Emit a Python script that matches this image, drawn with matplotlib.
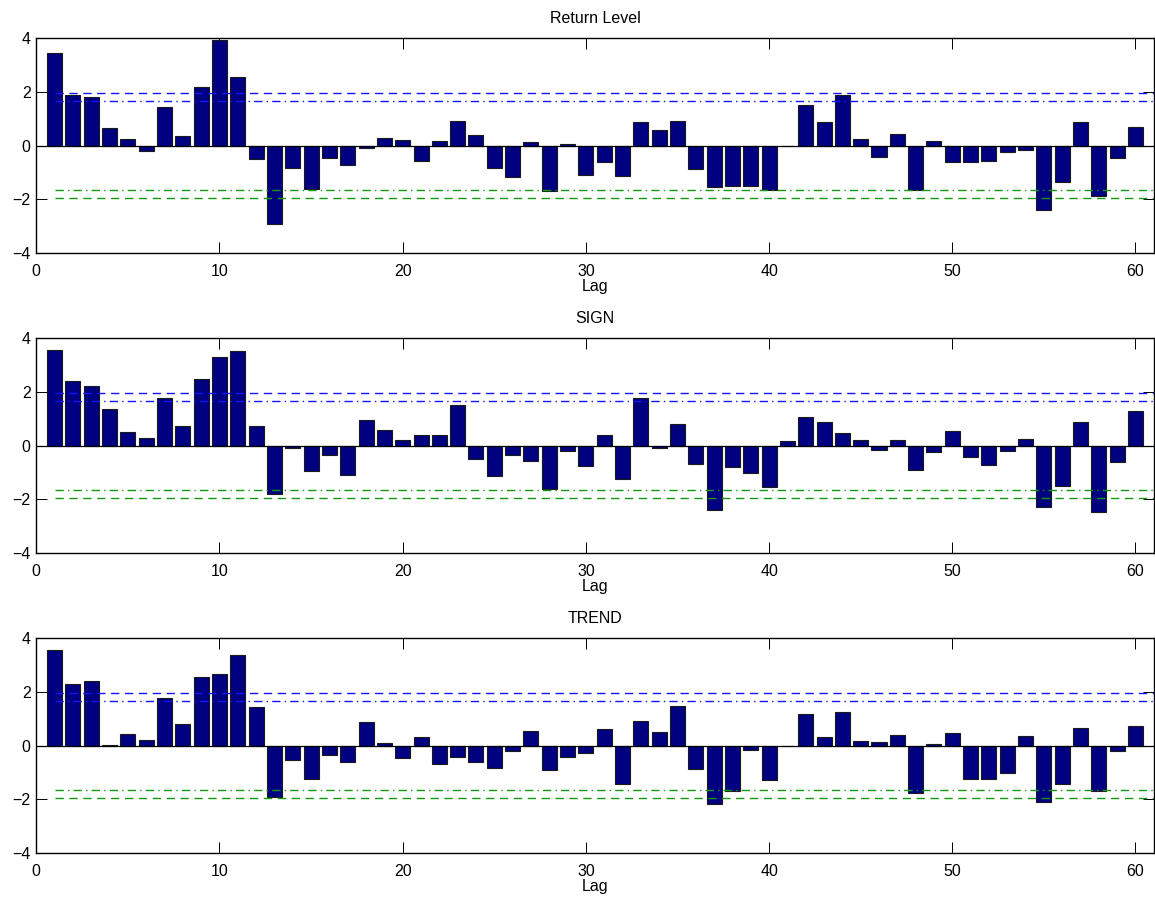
import matplotlib
matplotlib.use("Agg")
import matplotlib.pyplot as plt
import numpy as np

lags = list(range(1, 61))

return_level = [3.44, 1.87, 1.81, 0.65, 0.24, -0.22, 1.43, 0.35, 2.18, 3.93,
                2.56, -0.51, -2.92, -0.82, -1.60, -0.46, -0.74, -0.09, 0.29, 0.21,
                -0.57, 0.16, 0.93, 0.40, -0.84, -1.17, 0.14, -1.71, 0.05, -1.08,
                -0.60, -1.15, 0.87, 0.57, 0.91, -0.87, -1.54, -1.49, -1.49, -1.64,
                -0.02, 1.50, 0.87, 1.89, 0.24, -0.42, 0.42, -1.65, 0.16, -0.61,
                -0.63, -0.57, -0.26, -0.17, -2.41, -1.36, 0.87, -1.87, -0.48, 0.69]

sign = [3.54, 2.41, 2.20, 1.36, 0.50, 0.29, 1.75, 0.74, 2.47, 3.30,
        3.50, 0.74, -1.82, -0.10, -0.94, -0.35, -1.10, 0.96, 0.58, 0.22,
        0.40, 0.40, 1.49, -0.50, -1.14, -0.35, -0.57, -1.60, -0.20, -0.77,
        0.38, -1.25, 1.76, -0.10, 0.81, -0.67, -2.39, -0.81, -1.03, -1.54,
        0.16, 1.07, 0.89, 0.46, 0.20, -0.15, 0.19, -0.93, -0.25, 0.53,
        -0.43, -0.74, -0.19, 0.24, -2.28, -1.49, 0.89, -2.46, -0.62, 1.29]

trend = [3.55, 2.28, 2.41, 0.02, 0.41, 0.22, 1.76, 0.81, 2.54, 2.66,
         3.35, 1.45, -1.92, -0.53, -1.25, -0.35, -0.63, 0.88, 0.11, -0.46,
         0.30, -0.67, -0.43, -0.61, -0.84, -0.22, 0.53, -0.91, -0.43, -0.27,
         0.61, -1.44, 0.91, 0.50, 1.48, -0.86, -2.16, -1.71, -0.15, -1.29,
         -0.02, 1.19, 0.32, 1.25, 0.15, 0.12, 0.40, -1.75, 0.04, 0.46,
         -1.23, -1.25, -1.02, 0.35, -2.12, -1.44, 0.65, -1.71, -0.20, 0.71]

titles = ["Return Level", "SIGN", "TREND"]
series = [return_level, sign, trend]
crit_95 = 1.96
crit_90 = 1.645
xticks = [0, 10, 20, 30, 40, 50, 60]
yticks = [-4, -2, 0, 2, 4]

plt.rcParams['font.family'] = ['Liberation Sans', 'DejaVu Sans']
plt.rcParams['axes.unicode_minus'] = True

W, H = 1155, 901
fig = plt.figure(figsize=(W / 100, H / 100), dpi=100)

left = 36.3 / W
right = 1153.8 / W
ax_h = 215 / H
tops = [38, 338, 638]
fs = 11.5

for i, (title, vals) in enumerate(zip(titles, series)):
    bottom = 1 - (tops[i] + 215) / H
    ax = fig.add_axes([left, bottom, right - left, ax_h])
    ax.bar(lags, vals, width=0.82, color='#000080', edgecolor='#1a1a1a',
           linewidth=0.8, zorder=2)
    ax.axhline(0, color='black', linewidth=0.9, zorder=3)
    x0, x1 = 1, 61
    ax.plot([x0, x1], [crit_95, crit_95], color='#1414ff', linestyle=(0, (6, 4)),
            linewidth=1.0, zorder=4)
    ax.plot([x0, x1], [crit_90, crit_90], color='#1414ff', linestyle=(0, (6, 3, 1, 3)),
            linewidth=1.0, zorder=4)
    ax.plot([x0, x1], [-crit_90, -crit_90], color='#109a10', linestyle=(0, (6, 3, 1, 3)),
            linewidth=1.0, zorder=4)
    ax.plot([x0, x1], [-crit_95, -crit_95], color='#109a10', linestyle=(0, (6, 4)),
            linewidth=1.0, zorder=4)
    ax.set_xlim(0, 61)
    ax.set_ylim(-4, 4)
    ax.set_xticks(xticks)
    ax.set_yticks(yticks)
    ax.tick_params(direction='in', length=8, width=0.7, top=True, right=True,
                   labelsize=fs, pad=4)
    ax.tick_params(axis='x', pad=8)
    for s in ax.spines.values():
        s.set_linewidth(1.0)
    ax.set_title(title, fontsize=fs, pad=11)
    ax.set_xlabel("Lag", fontsize=fs, labelpad=0)

fig.savefig("out.png", dpi=100)
